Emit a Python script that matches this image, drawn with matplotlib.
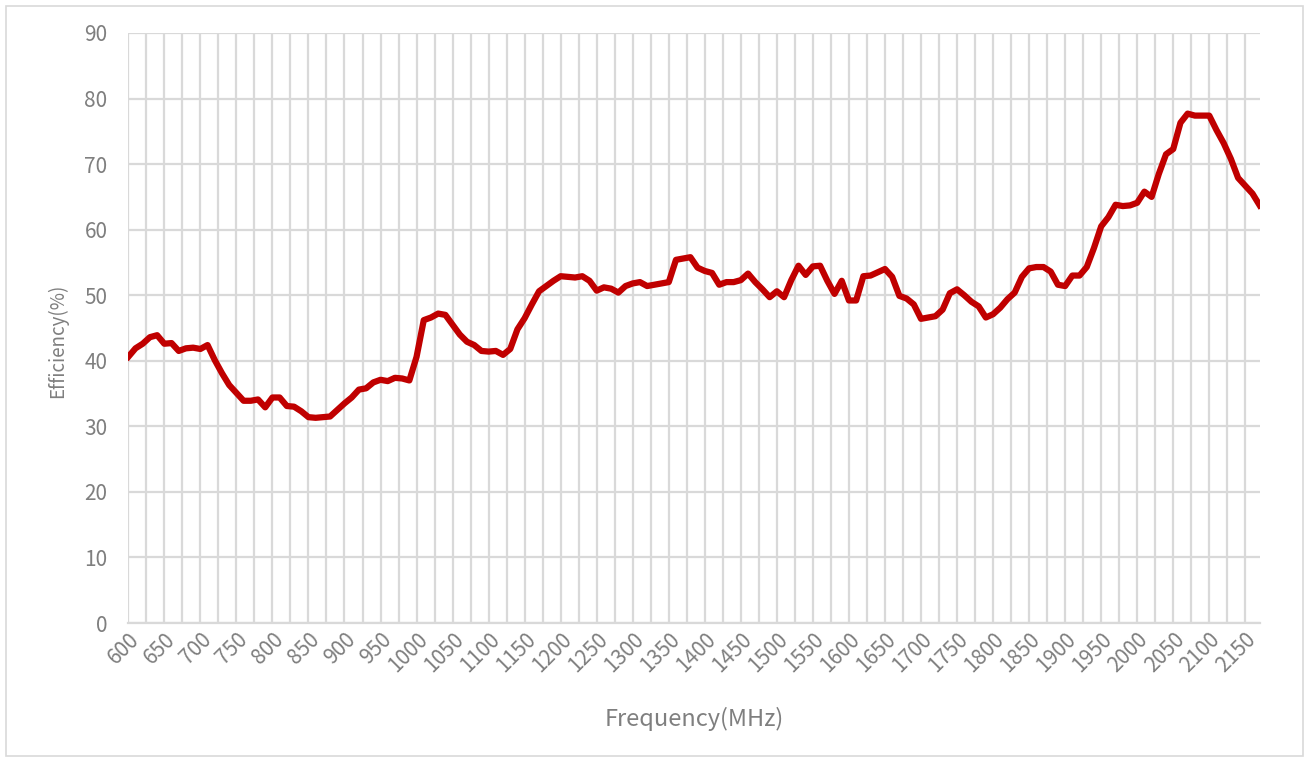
import matplotlib
matplotlib.use("Agg")
import matplotlib.pyplot as plt
from matplotlib.patches import Rectangle
from matplotlib.ticker import MultipleLocator

plt.rcParams['font.family'] = ['Noto Sans CJK SC', 'DejaVu Sans']

# frequency points (MHz), 10 MHz step
freq = list(range(600, 2180, 10))

# efficiency (%)
efficiency = [
    40.6, 41.9, 42.6, 43.6, 43.9, 42.6, 42.7, 41.5, 41.9, 42.0,   # 600-690
    41.8, 42.4, 40.1, 38.1, 36.3, 35.1, 33.9, 33.9, 34.1, 32.9,   # 700-790
    34.4, 34.4, 33.1, 33.0, 32.3, 31.4, 31.3, 31.4, 31.5, 32.5,   # 800-890
    33.5, 34.4, 35.6, 35.8, 36.7, 37.1, 36.9, 37.4, 37.3, 37.0,   # 900-990
    40.6, 46.2, 46.6, 47.2, 47.0, 45.5, 44.0, 42.9, 42.4, 41.5,   # 1000-1090
    41.4, 41.5, 40.9, 41.8, 44.8, 46.5, 48.6, 50.6, 51.4, 52.2,   # 1100-1190
    52.9, 52.8, 52.7, 52.9, 52.2, 50.7, 51.2, 51.0, 50.4, 51.4,   # 1200-1290
    51.8, 52.0, 51.4, 51.6, 51.8, 52.0, 55.4, 55.6, 55.8, 54.2,   # 1300-1390
    53.7, 53.4, 51.6, 52.0, 52.0, 52.3, 53.3, 52.0, 50.9, 49.7,   # 1400-1490
    50.6, 49.7, 52.3, 54.5, 53.1, 54.4, 54.5, 52.2, 50.2, 52.2,   # 1500-1590
    49.2, 49.2, 52.9, 53.0, 53.5, 54.0, 52.8, 49.9, 49.5, 48.6,   # 1600-1690
    46.4, 46.6, 46.8, 47.8, 50.3, 50.9, 50.0, 49.0, 48.3, 46.6,   # 1700-1790
    47.1, 48.1, 49.4, 50.4, 52.8, 54.1, 54.3, 54.3, 53.6, 51.6,   # 1800-1890
    51.4, 53.0, 53.0, 54.3, 57.2, 60.5, 61.9, 63.8, 63.6, 63.7,   # 1900-1990
    64.1, 65.8, 65.0, 68.5, 71.5, 72.3, 76.3, 77.7, 77.4, 77.4,   # 2000-2090
    77.4, 75.2, 73.2, 70.8, 67.9, 66.7, 65.5, 63.7,               # 2100-2170
]

label_freqs = list(range(600, 2151, 50))
y_ticks = list(range(0, 100, 10))

fig = plt.figure(figsize=(13.09, 7.62), dpi=100)
ax = fig.add_axes([128.3 / 1309, 1 - 623 / 762, (1259.7 - 128.3) / 1309, (623 - 33) / 762])

ax.plot(freq, efficiency, color='#C00000', linewidth=4.5, solid_joinstyle='round', zorder=3)

ax.set_xlim(freq[0], freq[-1])
ax.set_ylim(0, 90)
ax.set_yticks(y_ticks)
ax.set_xticks(label_freqs)
ax.xaxis.set_minor_locator(MultipleLocator(25))

grid_c = '#D9D9D9'
ax.grid(True, which='both', axis='x', color=grid_c, linewidth=1.6, zorder=0)
ax.grid(True, which='major', axis='y', color=grid_c, linewidth=1.6, zorder=0)
ax.set_axisbelow(True)
for s in ['top', 'right', 'left']:
    ax.spines[s].set_visible(False)
ax.spines['bottom'].set_color(grid_c)
ax.spines['bottom'].set_linewidth(1.6)

txt_c = '#7F7F7F'
ax.tick_params(axis='both', which='both', length=0, colors=txt_c, labelsize=15)
ax.tick_params(axis='y', pad=15)
ax.tick_params(axis='x', pad=4)
for lbl in ax.get_xticklabels():
    lbl.set_rotation(45)
    lbl.set_ha('right')
    lbl.set_va('top')
    lbl.set_rotation_mode('anchor')

ax.set_xlabel('Frequency(MHz)', fontsize=17, color=txt_c, labelpad=22)
ax.set_ylabel('Efficiency(%)', fontsize=13.5, color=txt_c)
ax.yaxis.set_label_coords(-0.0535, 0.478)

# chart-area border
fig.patches.append(Rectangle((6 / 1309, 6 / 762), 1297 / 1309, 750 / 762,
                             transform=fig.transFigure, fill=False,
                             edgecolor='#D9D9D9', linewidth=1.2))

fig.savefig('out.png', dpi=100)
